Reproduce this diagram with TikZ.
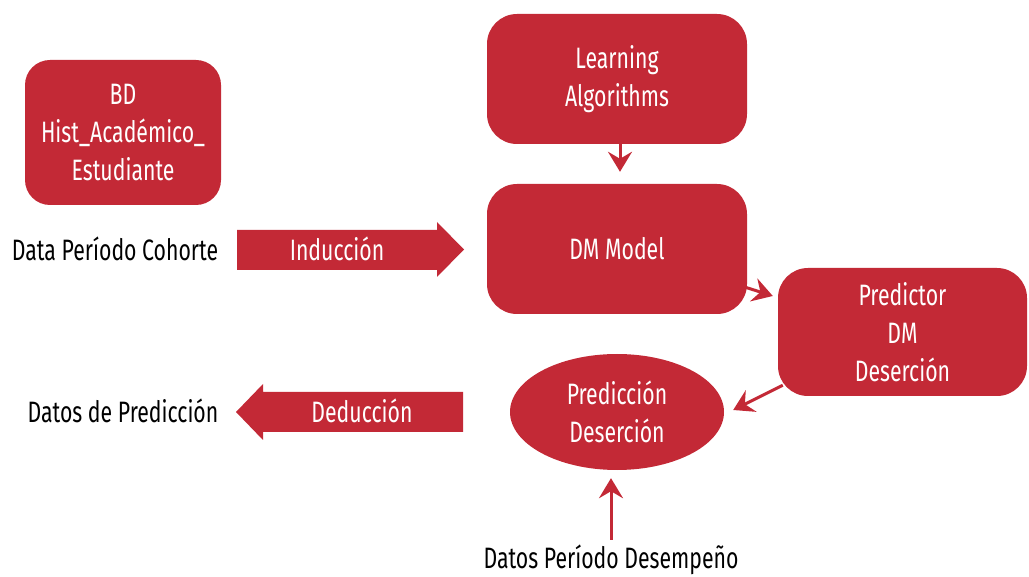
\documentclass[tikz,border=0pt]{standalone}
\usepackage{fontspec}
\setmainfont[FakeStretch=0.72]{Fira Sans}
\usetikzlibrary{shapes.geometric,arrows.meta,calc}
\definecolor{brick}{HTML}{C32936}
\tikzset{
  box/.style={fill=brick, rounded corners=30pt, text=white, align=center,
              inner sep=0pt, font=\fontsize{29.5}{38}\selectfont},
  oval/.style={ellipse, fill=brick, text=white, align=center, inner sep=0pt,
               font=\fontsize{29.5}{38}\selectfont},
  label/.style={text=black, inner sep=0pt, font=\fontsize{29.5}{34}\selectfont},
  band/.style={fill=brick},
  bandtext/.style={text=white, inner sep=0pt, font=\fontsize{29.5}{34}\selectfont},
  link/.style={draw=brick, line width=3pt,
               -{Stealth[length=20pt,width=24pt,inset=7pt]}}
}
\begin{document}
\begin{tikzpicture}[x=1pt,y=-1pt]
  \useasboundingbox (0,0) rectangle (1029,577);

  % main blocks
  \node[box, rounded corners=25pt, minimum width=196pt, minimum height=145pt]
       (bd) at (123,132.5) {BD\\Hist\_Académico\_\\Estudiante};
  \node[box, minimum width=260pt, minimum height=130pt]
       (la) at (617,79) {Learning\\Algorithms};
  \node[box, minimum width=260pt, minimum height=130pt]
       (dm) at (617,249) {DM Model};
  \node[box, minimum width=249pt, minimum height=128pt]
       (pred) at (902.5,332) {Predictor\\DM\\Deserción};
  \node[oval, minimum width=214pt, minimum height=116pt]
       (ell) at (617,412) {Predicción\\Deserción};

  % outside labels
  \node[label] (cohorte) at (115,249) {Data Período Cohorte};
  \node[label] (datpred) at (123,411) {Datos de Predicción};
  \node[label] (desemp) at (611,560) {Datos Período Desempeño};

  % broad arrows: induction and deduction
  \fill[band] (237,230) -- (437,230) -- (437,222) -- (464,249.5)
              -- (437,277) -- (437,270) -- (237,270) -- cycle;
  \node[bandtext] (ind) at (337,249) {Inducción};
  \fill[band] (463,392) -- (263,392) -- (263,384) -- (236,412)
              -- (263,440) -- (263,432) -- (463,432) -- cycle;
  \node[bandtext] (ded) at (362,411) {Deducción};

  % connectors
  \draw[link] ([xshift=3pt]la.south) -- ([xshift=3pt,yshift=12pt]dm.north);
  \draw[link] ([xshift=-2pt,yshift=27pt]dm.south east)
              -- ([xshift=-5pt,yshift=36pt]pred.west);
  \draw[link] ([xshift=5pt,yshift=11pt]pred.south west)
              -- ([xshift=9pt,yshift=2pt]ell.east);
  \draw[link] ([yshift=5pt]desemp.north) -- ([xshift=-6pt,yshift=-8pt]ell.south);
\end{tikzpicture}
\end{document}
